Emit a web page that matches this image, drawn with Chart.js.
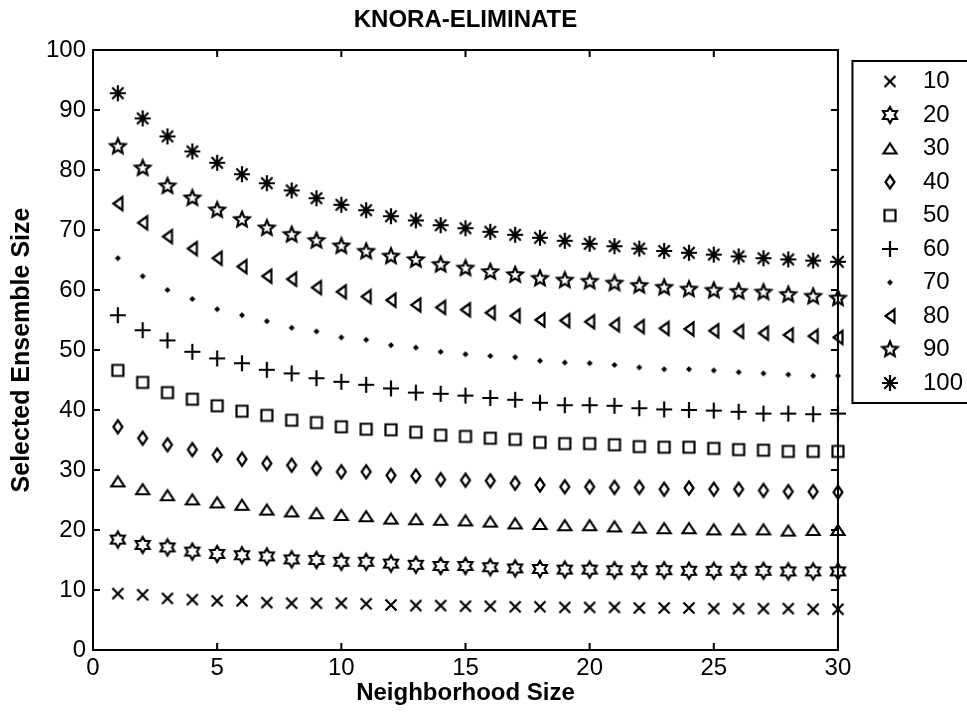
<!DOCTYPE html>
<html>
<head>
<meta charset="utf-8">
<script src="https://cdn.jsdelivr.net/npm/chart.js@4.4.0/dist/chart.umd.min.js"></script>
<style>
  body { margin: 0; background: #fff; }
</style>
</head>
<body>
<canvas id="myChart" width="967" height="712"></canvas>
<script>
// neighborhood sizes on the x axis
const neighborhood = [1, 2, 3, 4, 5, 6, 7, 8, 9, 10, 11, 12, 13, 14, 15, 16, 17, 18, 19, 20, 21, 22, 23, 24, 25, 26, 27, 28, 29, 30];

// selected ensemble size, one list per pool size
const pool10 = [9.4, 9.2, 8.6, 8.4, 8.2, 8.2, 7.9, 7.8, 7.8, 7.8, 7.7, 7.5, 7.4, 7.4, 7.3, 7.3, 7.2, 7.2, 7.1, 7.1, 7.1, 7.0, 7.0, 7.0, 6.9, 6.9, 6.9, 6.9, 6.8, 6.8];
const pool20 = [18.4, 17.5, 17.1, 16.4, 16.0, 15.8, 15.6, 15.1, 15.0, 14.7, 14.7, 14.4, 14.2, 14.0, 14.0, 13.8, 13.6, 13.5, 13.4, 13.4, 13.3, 13.3, 13.3, 13.2, 13.2, 13.2, 13.2, 13.1, 13.1, 13.1];
const pool30 = [28.1, 26.8, 25.8, 25.1, 24.6, 24.2, 23.4, 23.1, 22.8, 22.5, 22.3, 21.9, 21.8, 21.7, 21.6, 21.4, 21.1, 21.0, 20.8, 20.8, 20.6, 20.4, 20.3, 20.3, 20.1, 20.1, 20.1, 19.9, 20.0, 20.0];
const pool40 = [37.2, 35.3, 34.2, 33.4, 32.5, 31.8, 31.1, 30.8, 30.3, 29.7, 29.7, 29.1, 29.0, 28.4, 28.3, 28.2, 27.8, 27.5, 27.2, 27.2, 27.1, 27.1, 26.8, 27.0, 26.8, 26.8, 26.6, 26.4, 26.4, 26.3];
const pool50 = [46.6, 44.6, 42.9, 41.8, 40.7, 39.8, 39.1, 38.3, 37.9, 37.2, 36.8, 36.7, 36.3, 35.8, 35.6, 35.3, 35.1, 34.6, 34.4, 34.4, 34.2, 33.9, 33.8, 33.8, 33.6, 33.4, 33.3, 33.1, 33.1, 33.1];
const pool60 = [55.8, 53.3, 51.6, 49.7, 48.6, 47.8, 46.7, 46.1, 45.3, 44.7, 44.2, 43.6, 42.9, 42.7, 42.4, 42.0, 41.7, 41.2, 40.8, 40.8, 40.7, 40.3, 40.1, 40.0, 39.9, 39.7, 39.4, 39.4, 39.3, 39.4];
const pool70 = [65.3, 62.3, 60.0, 58.5, 56.8, 55.8, 54.8, 53.7, 53.1, 52.1, 51.7, 50.8, 50.4, 49.7, 49.3, 49.0, 48.8, 48.2, 47.9, 47.8, 47.5, 47.1, 46.8, 46.8, 46.6, 46.3, 46.1, 45.9, 45.7, 45.7];
const pool80 = [74.4, 71.2, 68.9, 66.9, 65.3, 63.9, 62.3, 61.8, 60.4, 59.7, 58.9, 58.3, 57.5, 57.1, 56.7, 56.2, 55.7, 55.0, 54.9, 54.7, 54.2, 53.9, 53.6, 53.5, 53.2, 53.1, 52.8, 52.5, 52.3, 52.1];
const pool90 = [83.9, 80.3, 77.3, 75.3, 73.3, 71.7, 70.3, 69.2, 68.2, 67.3, 66.4, 65.6, 65.0, 64.2, 63.6, 63.0, 62.5, 61.9, 61.6, 61.4, 61.1, 60.7, 60.4, 60.1, 59.9, 59.7, 59.6, 59.2, 58.9, 58.6];
const pool100 = [92.8, 88.6, 85.6, 83.1, 81.2, 79.3, 77.8, 76.6, 75.3, 74.2, 73.3, 72.3, 71.6, 70.8, 70.3, 69.7, 69.2, 68.7, 68.2, 67.7, 67.3, 66.9, 66.5, 66.2, 65.9, 65.6, 65.3, 65.1, 64.9, 64.7];

const seriesLabels = ['10', '20', '30', '40', '50', '60', '70', '80', '90', '100'];
const seriesValues = [pool10, pool20, pool30, pool40, pool50, pool60, pool70, pool80, pool90, pool100];
const seriesMarkers = ['x', 'hexagram', 'triangle', 'diamond', 'square', 'plus', 'dot', 'left', 'pentagram', 'asterisk'];

const xTicks = [0, 5, 10, 15, 20, 25, 30];
const yTicks = [0, 10, 20, 30, 40, 50, 60, 70, 80, 90, 100];

const FONT = "'Liberation Sans', Arial, Helvetica, sans-serif";
Chart.defaults.font.family = FONT;
Chart.defaults.color = '#000';

function starPath(g, n, R, r) {
  for (let i = 0; i < 2 * n; i++) {
    const a = -Math.PI / 2 + i * Math.PI / n;
    const d = i % 2 ? r : R;
    if (i === 0) g.moveTo(d * Math.cos(a), d * Math.sin(a));
    else g.lineTo(d * Math.cos(a), d * Math.sin(a));
  }
  g.closePath();
}

// matlab-like marker glyphs drawn on small canvases
function makeMarker(kind) {
  const c = document.createElement('canvas');
  c.width = 22;
  c.height = 22;
  const g = c.getContext('2d');
  g.translate(11, 11);
  g.strokeStyle = '#000';
  g.fillStyle = '#000';
  g.lineWidth = 2.2;
  g.beginPath();
  if (kind === 'x') {
    g.moveTo(-5.5, -5.5); g.lineTo(5.5, 5.5);
    g.moveTo(5.5, -5.5); g.lineTo(-5.5, 5.5);
    g.stroke();
  } else if (kind === 'hexagram') {
    starPath(g, 6, 8, 4.6);
    g.stroke();
  } else if (kind === 'triangle') {
    g.moveTo(0, -5); g.lineTo(6.5, 5); g.lineTo(-6.5, 5); g.closePath();
    g.stroke();
  } else if (kind === 'diamond') {
    g.moveTo(0, -6.5); g.lineTo(4.5, 0); g.lineTo(0, 6.5); g.lineTo(-4.5, 0); g.closePath();
    g.stroke();
  } else if (kind === 'square') {
    g.rect(-5.5, -5.5, 11, 11);
    g.stroke();
  } else if (kind === 'plus') {
    g.moveTo(-8, 0); g.lineTo(8, 0);
    g.moveTo(0, -8); g.lineTo(0, 8);
    g.stroke();
  } else if (kind === 'dot') {
    g.moveTo(0, -3); g.lineTo(3, 0); g.lineTo(0, 3); g.lineTo(-3, 0); g.closePath();
    g.fill();
  } else if (kind === 'left') {
    g.moveTo(-4.5, 0); g.lineTo(4.5, -6.5); g.lineTo(4.5, 6.5); g.closePath();
    g.stroke();
  } else if (kind === 'pentagram') {
    starPath(g, 5, 8, 3.6);
    g.stroke();
  } else if (kind === 'asterisk') {
    const r = 8, d = r * Math.SQRT1_2;
    g.moveTo(0, -r); g.lineTo(0, r);
    g.moveTo(-r, 0); g.lineTo(r, 0);
    g.moveTo(-d, -d); g.lineTo(d, d);
    g.moveTo(d, -d); g.lineTo(-d, d);
    g.stroke();
  }
  return c;
}

const datasets = seriesLabels.map((label, k) => ({
  label: label,
  data: seriesValues[k].map((v, i) => ({ x: neighborhood[i], y: v })),
  pointStyle: makeMarker(seriesMarkers[k]),
  pointRadius: 4,
  borderColor: '#000',
  backgroundColor: '#000',
  showLine: false,
  clip: false
}));

// box around the axes, inward ticks on all sides, frame around the legend
const matlabBox = {
  id: 'matlabBox',
  afterDraw(chart) {
    const { ctx, chartArea: a, scales } = chart;
    const x = scales.x, y = scales.y;
    ctx.save();
    ctx.strokeStyle = '#000';
    ctx.lineWidth = 2;
    ctx.strokeRect(a.left, a.top, a.right - a.left, a.bottom - a.top);
    ctx.beginPath();
    xTicks.forEach(t => {
      const px = x.getPixelForValue(t);
      ctx.moveTo(px, a.bottom); ctx.lineTo(px, a.bottom - 7);
      ctx.moveTo(px, a.top); ctx.lineTo(px, a.top + 7);
    });
    yTicks.forEach(t => {
      const py = y.getPixelForValue(t);
      ctx.moveTo(a.left, py); ctx.lineTo(a.left + 7, py);
      ctx.moveTo(a.right, py); ctx.lineTo(a.right - 7, py);
    });
    ctx.stroke();

    const lg = chart.legend;
    const hb = lg.legendHitBoxes;
    if (hb && hb.length) {
      const last = hb[hb.length - 1];
      const top = hb[0].top - 8.5;
      const bottom = last.top + last.height + 8;
      const left = lg.left - 7;
      ctx.strokeRect(left, top, chart.width + 20 - left, bottom - top);
    }
    ctx.restore();
  }
};

new Chart(document.getElementById('myChart'), {
  type: 'scatter',
  data: { datasets: datasets },
  options: {
    responsive: false,
    animation: false,
    events: [],
    layout: { padding: { left: 0, right: -6, top: 0, bottom: 0 } },
    plugins: {
      title: {
        display: true,
        text: 'KNORA-ELIMINATE',
        fullSize: false,
        color: '#000',
        font: { size: 24, weight: 'bold', lineHeight: 1.2 },
        padding: { top: 6.1, bottom: 15.1 }
      },
      legend: {
        position: 'right',
        align: 'start',
        fullSize: false,
        title: { display: true, text: '', font: { size: 10, lineHeight: 1 }, padding: 0 },
        labels: {
          usePointStyle: true,
          pointStyleWidth: 42,
          padding: 9.5,
          color: '#000',
          font: { size: 24 }
        }
      },
      tooltip: { enabled: false }
    },
    scales: {
      x: {
        type: 'linear',
        min: 0,
        max: 30,
        grid: { display: false, drawTicks: false },
        border: { display: false },
        ticks: {
          stepSize: 5,
          padding: 6,
          color: '#000',
          font: { size: 24, lineHeight: 1 }
        },
        title: {
          display: true,
          text: 'Neighborhood Size',
          color: '#000',
          font: { size: 24, weight: 'bold', lineHeight: 1 },
          padding: { top: 1, bottom: 7 }
        },
        afterFit: (scale) => { scale.height = 62; }
      },
      y: {
        type: 'linear',
        min: 0,
        max: 100,
        grid: { display: false, drawTicks: false },
        border: { display: false },
        ticks: {
          stepSize: 10,
          padding: 7,
          color: '#000',
          font: { size: 24, lineHeight: 1 }
        },
        title: {
          display: true,
          text: 'Selected Ensemble Size',
          color: '#000',
          font: { size: 25, weight: 'bold', lineHeight: 1 },
          padding: { top: 10, bottom: 11 }
        },
        afterFit: (scale) => { scale.width = 93; }
      },
      gap: {
        type: 'linear',
        axis: 'y',
        position: 'right',
        grid: { display: false, drawTicks: false },
        border: { display: false },
        ticks: { display: false },
        afterFit: (scale) => { scale.width = 21.5; }
      }
    }
  },
  plugins: [matlabBox]
});
</script>
</body>
</html>
